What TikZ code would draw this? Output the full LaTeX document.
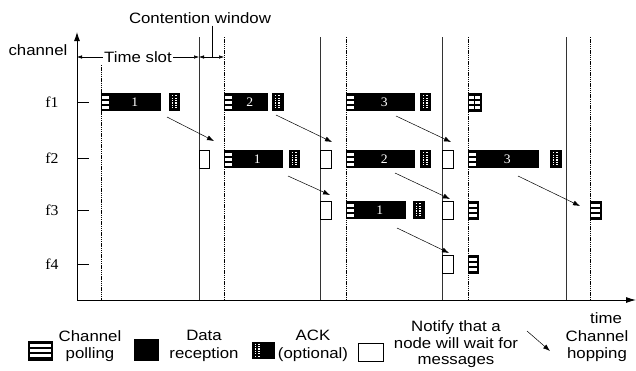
\documentclass[tikz,border=0pt]{standalone}
\usepackage{fontspec}
\setmainfont{Liberation Sans}[FakeStretch=1.12]
\newfontfamily\serifnum{Liberation Serif}[FakeStretch=1.05]
\usetikzlibrary{arrows.meta}
\tikzset{
  lbl/.style={font=\fontsize{15}{17.5}\selectfont, inner sep=0pt, align=center},
  flbl/.style={font=\serifnum\fontsize{15}{16}\selectfont, inner sep=0pt},
  slotline/.style={line width=0.9pt, draw=black!80},
  guardline/.style={line width=0.6pt, dash pattern=on 1.3pt off 0.9pt},
  hop/.style={-{Latex[length=7pt,width=5pt]}, line width=0.5pt},
  axis/.style={line width=0.9pt},
  notify/.style={draw, fill=white, line width=0.6pt, minimum height=18pt, minimum width=11pt, inner sep=0pt, anchor=west},
  stripes/.style={path picture={
     \foreach \t/\b in {2.5/5.5,7.5/10.5,12.5/15.5}
       \fill[white] ([xshift=#1,yshift=-\t pt]path picture bounding box.north west)
         rectangle ([xshift=8pt,yshift=-\b pt]path picture bounding box.north west);}},
  polling/.style={draw, fill=black, line width=0.5pt, minimum height=18pt, minimum width=10pt, inner sep=0pt, anchor=west,
     path picture={
     \foreach \t/\b in {2.5/5.5,7.5/10.5,12.5/15.5}
       \fill[white] ([xshift=1.2pt,yshift=-\t pt]path picture bounding box.north west)
         rectangle ([xshift=-1.2pt,yshift=-\b pt]path picture bounding box.north east);}},
  datablk/.style={fill=black, minimum height=18pt, inner sep=0pt, anchor=west, text=white,
     font=\serifnum\fontsize{13}{14}\selectfont, stripes=0.6pt},
  ack/.style={draw, fill=black, line width=0.5pt, minimum height=17pt, minimum width=10pt, inner sep=0pt, anchor=west,
     path picture={
     \foreach \dx in {3,6.6}
       \draw[white, line width=1.3pt, dash pattern=on 1.2pt off 1.2pt]
         ([xshift=\dx pt,yshift=-1.6pt]path picture bounding box.north west) --
         ([xshift=\dx pt,yshift=1.6pt]path picture bounding box.south west);}},
}
\begin{document}
\begin{tikzpicture}[x=1pt,y=-1pt]
\useasboundingbox (0,0) rectangle (636,370);
\clip (0,0) rectangle (636,370);

% slot boundaries
\foreach \x in {199,320,442,566} \draw[slotline] (\x,37) -- (\x,300);
\draw[guardline] (101,65) -- (101,300);
\foreach \x in {224,346,468,590} \draw[guardline] (\x,37) -- (\x,300);

% axes
\coordinate (orig) at (77,300);
\coordinate (ytop) at (77,32);
\coordinate (xend) at (636,300);
\draw[axis, -{Latex[length=9pt,width=6pt]}] (orig) -- (ytop);
\draw[axis, -{Latex[length=10pt,width=6pt]}] (orig) -- (xend);
\node[lbl] (chan) at (38,50) {channel};
\node[lbl] (timelbl) at (606,318) {time};

% channel ticks and labels
\foreach \n/\y in {1/102,2/158,3/210,4/264}{
  \draw[line width=0.6pt] (77,\y) -- (89,\y);
  \node[flbl] (f\n) at (52,\y) {f\n};
}

% time slot / contention window
\coordinate (ts0) at (77,57);
\coordinate (ts1) at (199,57);
\coordinate (cw1) at (224,57);
\coordinate (cwa) at (212,57);
\draw[{Latex[length=5pt,width=3.5pt]}-{Latex[length=5pt,width=3.5pt]}, line width=0.5pt]
  (ts0) -- node[lbl, fill=white, inner xsep=1.5pt, inner ysep=1pt] (tslot) {Time slot} (ts1);
\draw[{Latex[length=5pt,width=3.5pt]}-{Latex[length=5pt,width=3.5pt]}, line width=0.5pt] (ts1) -- (cw1);
\node[lbl] (cwtxt) at (200,18) {Contention window};
\draw[line width=0.5pt] (cwa |- cwtxt.south) ++(0,2) -- (cwa);

% row f1
\node[datablk, minimum width=60pt] (a1) at (101,102) {\hspace*{7pt}1};
\node[ack] (k1) at (169,102) {};
\node[datablk, minimum width=44pt] (a2) at (224,102) {\hspace*{7pt}2};
\node[ack, minimum width=11pt] (k2) at (272,102) {};
\node[datablk, minimum width=69pt] (a3) at (346,102) {\hspace*{7pt}3};
\node[ack] (k3) at (420,102) {};
\node[polling, minimum width=13pt] (p14) at (468,102) {};
\draw[line width=0.8pt] (p14.north) -- (p14.south);

% row f2
\node[notify, minimum width=10pt] (n21) at (199,159) {};
\node[datablk, minimum width=59pt] (b1) at (224,159) {\hspace*{7pt}1};
\node[ack] (k4) at (289,159) {};
\node[notify] (n22) at (320,159) {};
\node[datablk, minimum width=69pt] (b2) at (346,159) {\hspace*{7pt}2};
\node[ack] (k5) at (420,159) {};
\node[notify] (n23) at (442,159) {};
\node[datablk, minimum width=71pt] (b3) at (468,159) {\hspace*{7pt}3};
\node[ack, minimum width=11pt] (k6) at (550,159) {};

% row f3
\node[notify] (n31) at (320,210) {};
\node[datablk, minimum width=60pt] (c1) at (346,210) {\hspace*{7pt}1};
\node[ack, minimum width=11pt] (k7) at (413,210) {};
\node[notify] (n32) at (442,210) {};
\node[polling] (p31) at (468,210) {};
\node[polling, minimum width=11pt] (p32) at (590,210) {};

% row f4
\node[notify] (n41) at (442,264) {};
\node[polling] (p41) at (468,264) {};

% channel hopping arrows
\coordinate (h1s) at (167,117); \coordinate (h1e) at (214,141);
\coordinate (h2s) at (276,115); \coordinate (h2e) at (332,142);
\coordinate (h3s) at (396,116); \coordinate (h3e) at (451,142);
\coordinate (h4s) at (288,176); \coordinate (h4e) at (330,195);
\coordinate (h5s) at (395,173); \coordinate (h5e) at (450,199);
\coordinate (h6s) at (397,228); \coordinate (h6e) at (449,253);
\coordinate (h7s) at (518,176); \coordinate (h7e) at (580,206);
\foreach \i in {1,...,7} \draw[hop] (h\i s) -- (h\i e);

% legend
\node[polling, minimum width=24pt, minimum height=19pt, line width=0.6pt] (lp) at (28,351) {};
\node[lbl] (lpt) at (90,346) {Channel\\polling};
\node[fill=black, minimum width=25pt, minimum height=22pt, inner sep=0pt, anchor=west] (ld) at (134,350) {};
\node[lbl] (ldt) at (204,346) {Data\\reception};
\node[ack, minimum width=22pt, minimum height=16pt] (la) at (252,350) {};
\node[lbl] (lat) at (313,346) {ACK\\(optional)};
\node[notify, minimum width=25pt, minimum height=18pt] (ln) at (358,352) {};
\node[lbl, anchor=north, font=\fontsize{15}{16.5}\selectfont] (lnt) at (456,320.5) {Notify that a\\node will wait for\\messages};
\coordinate (lhs) at (527,331); \coordinate (lhe) at (550,351);
\draw[hop] (lhs) -- (lhe);
\node[lbl] (lht) at (597,346) {Channel\\hopping};
\end{tikzpicture}
\end{document}
